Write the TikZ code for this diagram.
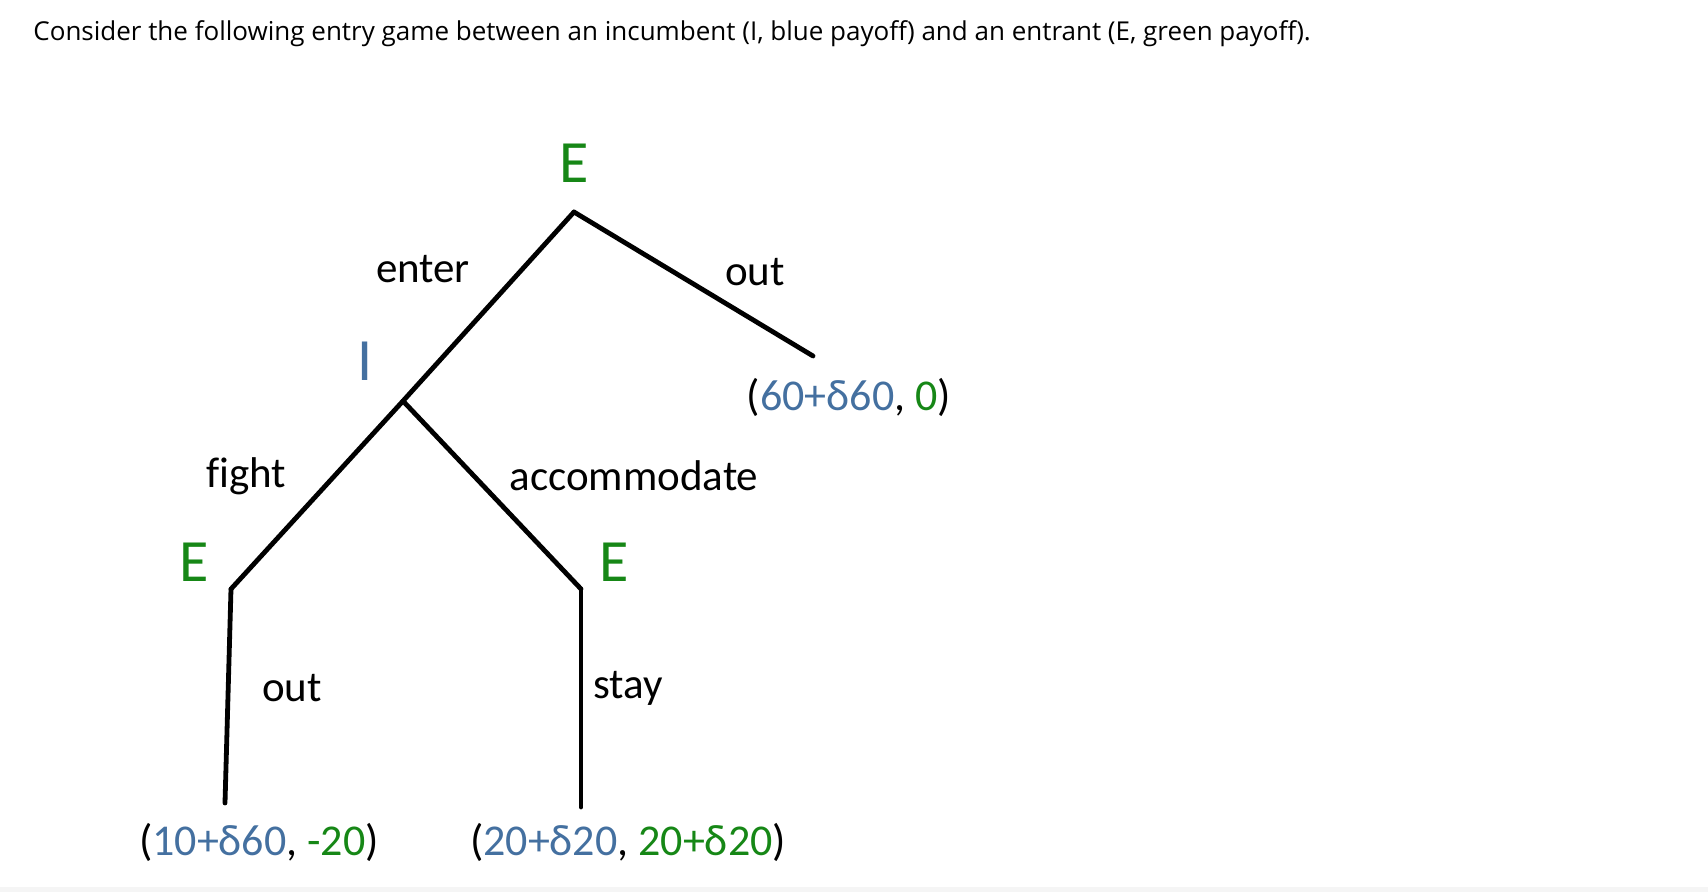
\documentclass[tikz,border=0pt]{standalone}
\usepackage{fontspec}
\setmainfont{Carlito}
\newfontfamily\titlefont{Open Sans}
\definecolor{pblue}{RGB}{68,112,160}
\definecolor{pgreen}{RGB}{22,135,22}
\begin{document}
\begin{tikzpicture}[x=0.5pt,y=-0.5pt,
  edge/.style={line width=2.4pt,line cap=round},
  lab/.style={inner sep=0pt,font=\fontsize{21.5}{24}\selectfont},
  player/.style={inner sep=0pt,font=\fontsize{30}{34}\selectfont},
  pay/.style={inner sep=0pt,font=\fontsize{22}{26}\selectfont}]
\useasboundingbox (0,0) rectangle (1708,892);
\fill[gray!8] (0,887) rectangle (1708,892);
\node[inner sep=0pt,anchor=base west,font=\titlefont\fontsize{13}{16}\selectfont] (title) at (33,41)
  {Consider the following entry game between an incumbent (I, blue payoff) and an entrant (E, green payoff).};
% vertices
\coordinate (root) at (574,212);
\coordinate (inc) at (403,401);
\coordinate (outend) at (813,356);
\coordinate (el) at (231,589);
\coordinate (er) at (581,589);
\coordinate (bl) at (225,803);
\coordinate (br) at (581,807);
% edges
\draw[edge] (root) -- (inc);
\draw[edge] (root) -- (outend);
\draw[edge] (inc) -- (el);
\draw[edge] (inc) -- (er);
\draw[edge] (el) -- (bl);
\draw[edge] (er) -- (br);
% players
\node[player,text=pgreen] (pE) at (574,163) {E};
\node[player,text=pblue] (pI) at (365,361) {I};
\node[player,text=pgreen] (pEl) at (194,562) {E};
\node[player,text=pgreen] (pEr) at (614,562) {E};
% action labels
\node[lab] (lenter) at (423,269) {enter};
\node[lab] (lout) at (755,272) {out};
\node[lab] (lfight) at (246,476) {f\kern0pt ight};
\node[lab] (lacc) at (634,476) {accommodate};
\node[lab] (lout2) at (292,688) {out};
\node[lab] (lstay) at (628,688) {stay};
% payoffs
\node[pay] (p1) at (849,397) {(\textcolor{pblue}{60+δ60}, \textcolor{pgreen}{0})};
\node[pay] (p2) at (259,842) {(\textcolor{pblue}{10+δ60}, \textcolor{pgreen}{-20})};
\node[pay] (p3) at (628,842) {(\textcolor{pblue}{20+δ20}, \textcolor{pgreen}{20+δ20})};
\end{tikzpicture}
\end{document}
